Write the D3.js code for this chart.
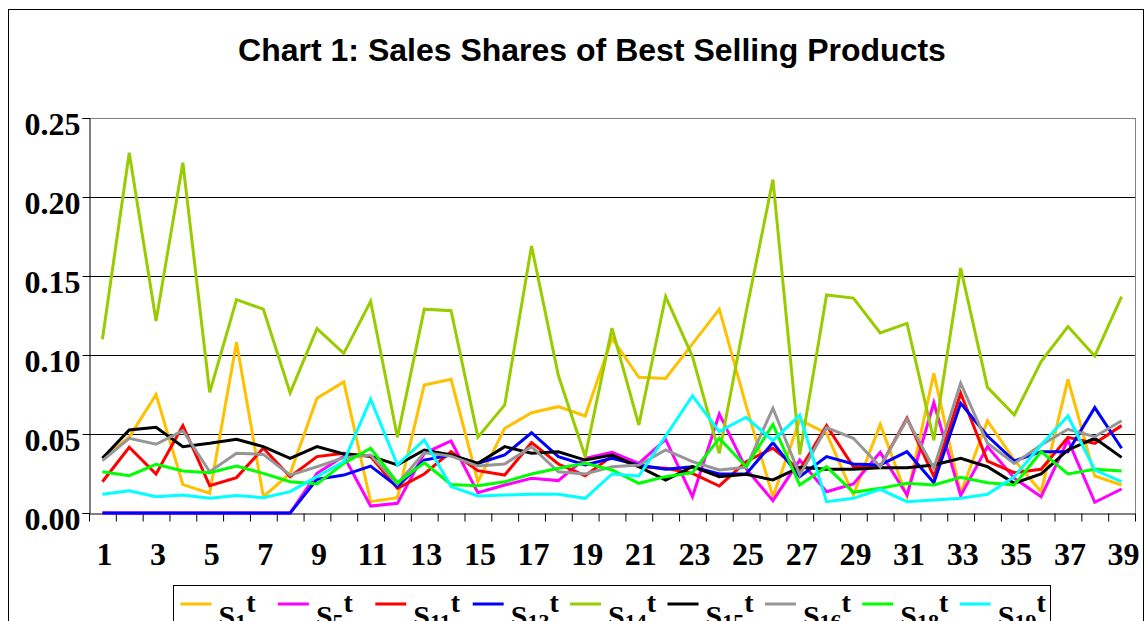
<!DOCTYPE html>
<html>
<head>
<meta charset="utf-8">
<script src="https://cdn.jsdelivr.net/npm/d3@7"></script>
<style>
  html, body { margin: 0; padding: 0; background: #fff; overflow: hidden; }
  svg { display: block; }
</style>
</head>
<body>
<svg id="chart" width="1145" height="621"></svg>
<script>
const title = "Chart 1: Sales Shares of Best Selling Products";
const categories = [1,2,3,4,5,6,7,8,9,10,11,12,13,14,15,16,17,18,19,20,21,22,23,24,25,26,27,28,29,30,31,32,33,34,35,36,37,38,39];
const yTicks = [0, 0.05, 0.10, 0.15, 0.20, 0.25];
const seriesNames = ["1", "5", "11", "13", "14", "15", "16", "18", "19"];
const seriesColors = ["#FFC000", "#FF00FF", "#FF0000", "#0000FF", "#99CC00", "#000000", "#969696", "#00FF00", "#00FFFF"];

const S1  = [0.035,0.048,0.075,0.018,0.0125,0.108,0.0103,0.025,0.0726,0.083,0.0072,0.0097,0.081,0.0846,0.0198,0.0536,0.0635,0.0673,0.0614,0.1106,0.0859,0.0852,0.107,0.129,0.068,0.0103,0.0589,0.0504,0.0114,0.0561,0.0103,0.0884,0.0125,0.0584,0.0335,0.0135,0.0846,0.0234,0.0177];
const S5  = [0,0,0,0,0,0,0,0,0.0251,0.036,0.0044,0.0061,0.0378,0.0456,0.0129,0.0177,0.022,0.0205,0.0346,0.0384,0.0314,0.0466,0.0103,0.0627,0.028,0.0078,0.0335,0.0135,0.0184,0.0384,0.0114,0.0698,0.011,0.042,0.022,0.0103,0.0462,0.0068,0.0152];
const S11 = [0.0198,0.0416,0.0247,0.0553,0.0173,0.0224,0.041,0.023,0.0357,0.0378,0.0357,0.0156,0.0247,0.0388,0.0268,0.024,0.0445,0.031,0.0236,0.036,0.0293,0.0283,0.0251,0.0171,0.0325,0.041,0.0272,0.0553,0.0293,0.0293,0.06,0.023,0.0758,0.0329,0.0255,0.0277,0.0479,0.0441,0.0553];
const S13 = [0,0,0,0,0,0,0,0,0.0213,0.024,0.0297,0.0167,0.0335,0.0367,0.0314,0.0367,0.0508,0.0357,0.0304,0.0346,0.0304,0.0277,0.0293,0.0247,0.0247,0.0445,0.023,0.0357,0.031,0.0304,0.0388,0.0192,0.0694,0.0487,0.0329,0.0388,0.0388,0.0667,0.041];
const S14 = [0.110,0.228,0.1215,0.2217,0.0763,0.135,0.129,0.076,0.1167,0.101,0.134,0.0479,0.129,0.128,0.048,0.0684,0.169,0.087,0.0357,0.117,0.0557,0.137,0.099,0.0378,0.127,0.211,0.037,0.138,0.136,0.114,0.120,0.046,0.155,0.0795,0.062,0.0958,0.118,0.0994,0.137];
const S15 = [0.0346,0.0525,0.0542,0.042,0.0441,0.0466,0.042,0.0346,0.042,0.0373,0.036,0.0304,0.0399,0.0367,0.0314,0.042,0.0378,0.0388,0.0335,0.0367,0.0293,0.0209,0.0293,0.023,0.0245,0.0209,0.0289,0.0277,0.0277,0.0287,0.0287,0.0304,0.0346,0.0293,0.0188,0.0247,0.0399,0.0473,0.0352];
const S16 = [0.0331,0.0473,0.0435,0.0521,0.0261,0.0378,0.0371,0.024,0.0293,0.035,0.0367,0.0184,0.0382,0.036,0.0297,0.031,0.042,0.0261,0.0247,0.0293,0.0304,0.0399,0.0325,0.0272,0.0289,0.0663,0.024,0.054,0.0473,0.0293,0.0593,0.0283,0.0821,0.0441,0.0314,0.043,0.053,0.0483,0.0584];
const S18 = [0.0261,0.0236,0.0308,0.0266,0.0255,0.0297,0.0251,0.0198,0.0184,0.0314,0.041,0.0192,0.0318,0.0181,0.0173,0.0198,0.0247,0.0283,0.0314,0.0272,0.0188,0.023,0.0255,0.0473,0.0293,0.0561,0.0177,0.0293,0.0131,0.0156,0.0188,0.0177,0.0226,0.0192,0.0177,0.0388,0.0247,0.0277,0.0266];
const S19 = [0.0118,0.0141,0.0103,0.0114,0.0093,0.011,0.0097,0.0135,0.023,0.0325,0.072,0.0304,0.0462,0.0167,0.0108,0.0114,0.0118,0.0118,0.0093,0.0247,0.0234,0.0487,0.0742,0.0515,0.0606,0.0458,0.062,0.0072,0.0093,0.015,0.0072,0.0082,0.0093,0.0118,0.023,0.043,0.0614,0.0272,0.0198];

const seriesValues = [S1, S5, S11, S13, S14, S15, S16, S18, S19];

const svg = d3.select("#chart");
const L = 89, R = 1135, T = 118, B = 513;
const serif = "'Liberation Serif', 'Times New Roman', serif";

// outer frame
svg.append("rect").attr("x", 8.5).attr("y", 9.5).attr("width", 1135).attr("height", 640)
  .attr("fill", "#fff").attr("stroke", "#000").attr("stroke-width", 1);

// title
svg.append("text").attr("x", 592).attr("y", 61).attr("text-anchor", "middle")
  .attr("font-family", "'Liberation Sans', Arial, sans-serif").attr("font-weight", "bold")
  .attr("font-size", 32).attr("fill", "#000").text(title);

const x = d3.scaleBand().domain(categories).range([L, R]).padding(0);
const xb = d3.scaleLinear().domain([0, categories.length]).range([L, R]);
const y = d3.scaleLinear().domain([0, 0.25]).range([B, T]);

// gridlines
svg.append("g").selectAll("line").data(yTicks.filter(d => d > 0)).join("line")
  .attr("x1", L).attr("x2", R)
  .attr("y1", d => Math.round(y(d)) + 0.5).attr("y2", d => Math.round(y(d)) + 0.5)
  .attr("stroke", d => d === 0.25 ? "#808080" : "#000").attr("stroke-width", 1);

// plot right border
svg.append("line").attr("x1", R + 0.5).attr("x2", R + 0.5).attr("y1", T).attr("y2", B)
  .attr("stroke", "#808080").attr("stroke-width", 1);

// y axis
const yAxis = svg.append("g").attr("transform", `translate(${L + 0.5},0)`)
  .call(d3.axisLeft(y).tickValues(yTicks).tickFormat(d3.format(".2f")).tickSize(7).tickPadding(3));
yAxis.select(".domain").attr("stroke", "#000");
yAxis.selectAll(".tick line").attr("stroke", "#000");
yAxis.selectAll(".tick text").attr("font-family", serif).attr("font-weight", "bold")
  .attr("font-size", 32).attr("fill", "#000").attr("dy", "0.5em").attr("x", -9);

// x axis ticks at category boundaries
const xAxis = svg.append("g").attr("transform", `translate(0,${B + 0.5})`)
  .call(d3.axisBottom(xb).tickValues(d3.range(categories.length + 1)).tickFormat("").tickSize(8).tickSizeOuter(0));
xAxis.select(".domain").attr("stroke", "#000");
xAxis.selectAll(".tick line").attr("stroke", "#000");

// x labels
svg.append("g").selectAll("text").data(categories.filter(c => c % 2 === 1)).join("text")
  .attr("x", d => x(d) + x.bandwidth() / 2 + 2).attr("y", 565)
  .attr("text-anchor", "middle").attr("font-family", serif).attr("font-weight", "bold")
  .attr("font-size", 32).attr("fill", "#000").text(d => d);

// lines
const line = d3.line().x((d, i) => x(categories[i]) + x.bandwidth() / 2).y(d => y(d));
svg.append("g").selectAll("path").data(seriesValues).join("path")
  .attr("d", d => line(d)).attr("fill", "none")
  .attr("stroke", (d, i) => seriesColors[i]).attr("stroke-width", 3)
  .attr("stroke-linejoin", "miter").attr("stroke-miterlimit", 4);

// legend
svg.append("rect").attr("x", 173.5).attr("y", 585.5).attr("width", 877).attr("height", 80)
  .attr("fill", "#fff").attr("stroke", "#000").attr("stroke-width", 1);
const leg = svg.append("g").selectAll("g").data(seriesNames).join("g")
  .attr("transform", (d, i) => `translate(${180.5 + i * 97.4},0)`);
leg.append("line").attr("x1", 0).attr("x2", 31).attr("y1", 604).attr("y2", 604)
  .attr("stroke", (d, i) => seriesColors[i]).attr("stroke-width", 3);
const lt = leg.append("text").attr("x", 38).attr("y", 626)
  .attr("font-family", serif).attr("font-weight", "bold").attr("fill", "#000");
lt.append("tspan").attr("font-size", 30).text("S");
lt.append("tspan").attr("font-size", 22).attr("dy", 3).text(d => d);
lt.append("tspan").attr("font-size", 28).attr("dy", -17).text("t");
</script>
</body>
</html>
